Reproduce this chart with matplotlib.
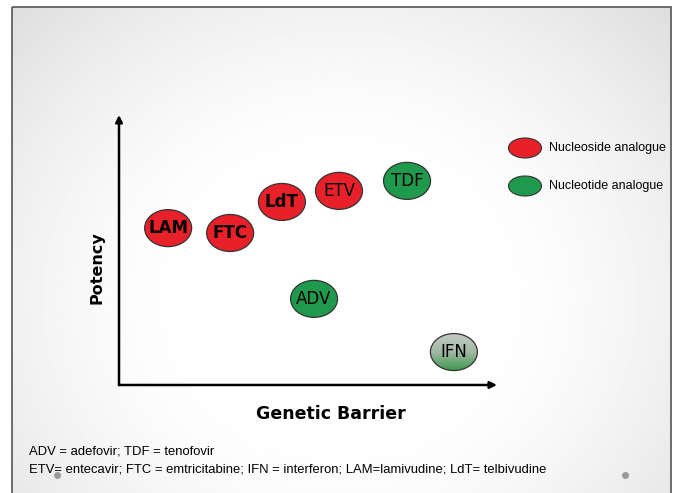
import numpy as np
import matplotlib
matplotlib.use('Agg')
import matplotlib.pyplot as plt
from matplotlib.patches import Ellipse, Rectangle
from matplotlib.colors import LinearSegmentedColormap

plt.rcParams['font.family'] = ['Liberation Sans', 'DejaVu Sans']

# 药物位置：遗传屏障 (x) 与效力 (y)，单位 0-10
drugs = ['LAM', 'FTC', 'LdT', 'ETV', 'TDF', 'ADV', 'IFN']
genetic_barrier = [1.30, 2.94, 4.31, 5.82, 7.62, 5.16, 8.86]
potency = [5.81, 5.63, 6.78, 7.19, 7.56, 3.19, 1.22]
drug_class = ['nucleoside', 'nucleoside', 'nucleoside', 'nucleoside',
              'nucleotide', 'nucleotide', 'interferon']
bold_labels = ['LAM', 'FTC', 'LdT']

legend_labels = ['Nucleoside analogue', 'Nucleotide analogue']
footnotes = ['ADV = adefovir; TDF = tenofovir',
             'ETV= entecavir; FTC = emtricitabine; IFN = interferon; LAM=lamivudine; LdT= telbivudine']

RED = '#e8202a'
GREEN = '#1f9a4c'
colors = {'nucleoside': RED, 'nucleotide': GREEN}
WIDE = ['DejaVu Sans']

W, H = 676, 493
fig = plt.figure(figsize=(W / 100, H / 100), dpi=100)
fig.patch.set_facecolor('white')

# 背景层：像素坐标，径向渐变的幻灯片底色
bg = fig.add_axes([0, 0, 1, 1])
bg.set_xlim(0, W)
bg.set_ylim(H, 0)
bg.axis('off')
x0, x1, y0, y1 = 12, 671, 7, 500
xx, yy = np.meshgrid(np.linspace(x0, x1, 400), np.linspace(y0, y1, 300))
r = np.sqrt(((xx - 340) / 420) ** 2 + ((yy - 300) / 380) ** 2)
shade = 1.0 - 0.2 * np.clip(r - 0.35, 0, None) ** 1.5
bg.imshow(shade, extent=(x0, x1, y1, y0), cmap='gray', vmin=0, vmax=1,
          aspect='auto', zorder=0)
bg.add_patch(Rectangle((x0, y0), x1 - x0, y1 - y0, fill=False,
                       edgecolor='#555555', lw=1.2, zorder=1))

# 图表区
ax = fig.add_axes([119 / W, (H - 385) / H, 378 / W, 270 / H])
ax.axis('off')
ax.patch.set_alpha(0)

ax.annotate('', xy=(1.0, 0), xytext=(0, 0), xycoords='axes fraction',
            arrowprops=dict(arrowstyle='-|>', color='black', lw=1.8,
                            mutation_scale=10, shrinkA=0, shrinkB=0))
ax.annotate('', xy=(0, 1.0), xytext=(0, 0), xycoords='axes fraction',
            arrowprops=dict(arrowstyle='-|>', color='black', lw=1.8,
                            mutation_scale=10, shrinkA=0, shrinkB=0))

ew, eh = 47 / 37.8, 37 / 27.0
ifn_cmap = LinearSegmentedColormap.from_list('ifn', ['#c4c9c4', '#9fb8a2', '#3a984c'])
for name, gx, py, cls in zip(drugs, genetic_barrier, potency, drug_class):
    if cls == 'interferon':
        e = Ellipse((gx, py), ew, eh, facecolor='none', edgecolor='#333333', lw=0.9, zorder=4)
        ax.add_patch(e)
        grad = np.linspace(0, 1, 100).reshape(-1, 1)
        im = ax.imshow(grad, extent=(gx - ew / 2, gx + ew / 2, py - eh / 2, py + eh / 2),
                       origin='upper', cmap=ifn_cmap, aspect='auto', zorder=3)
        im.set_clip_path(e)
    else:
        ax.add_patch(Ellipse((gx, py), ew, eh, facecolor=colors[cls],
                             edgecolor='#333333', lw=0.9, zorder=3))
    weight = 'bold' if name in bold_labels else 'normal'
    ax.text(gx, py, name, ha='center', va='center', fontsize=12,
            fontweight=weight, color='black', family=WIDE, zorder=5)
ax.set_xlim(0, 10)
ax.set_ylim(0, 10)

# 轴标题
bg.text(97, 268, 'Potency', rotation=90, ha='center', va='center',
        fontsize=11.5, fontweight='bold', family=WIDE)
bg.text(331, 414, 'Genetic Barrier', ha='center', va='center',
        fontsize=12.5, fontweight='bold', family=WIDE)

# 图例
for lab, col, ly in zip(legend_labels, [RED, GREEN], [148, 186]):
    bg.add_patch(Ellipse((525, ly), 33, 20, facecolor=col,
                         edgecolor='#333333', lw=0.8, zorder=3))
    bg.text(549, ly, lab, ha='left', va='center', fontsize=9, zorder=3)

# 缩写说明
for i, line in enumerate(footnotes):
    bg.text(29, 452 + 17 * i, line, ha='left', va='center', fontsize=9.4, zorder=3)

# 幻灯片上的小圆点
bg.plot([57, 625], [475, 475], 'o', color='#999999', ms=4, zorder=3)

fig.savefig('out.png', dpi=100)
